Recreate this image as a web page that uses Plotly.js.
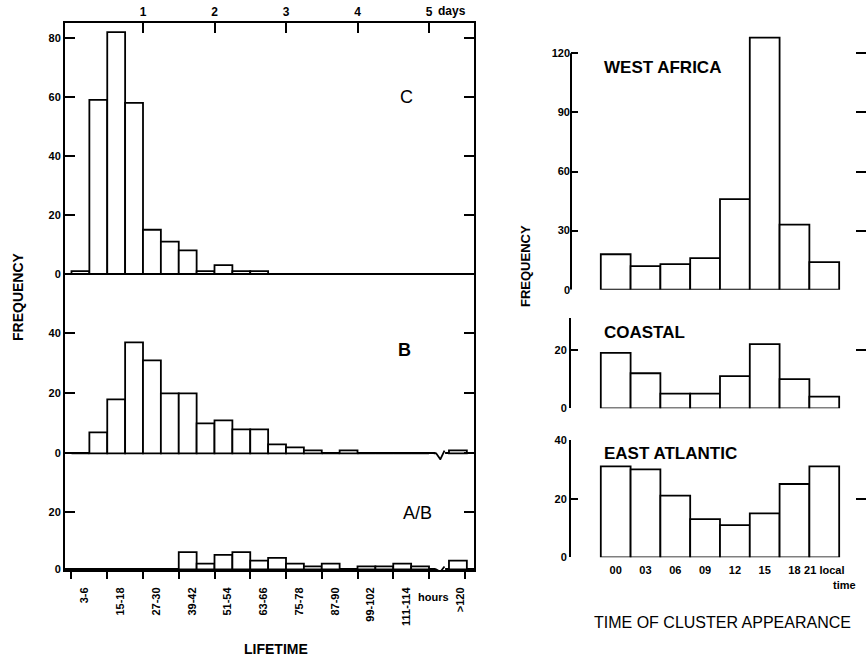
<!DOCTYPE html>
<html><head><meta charset="utf-8">
<script src="https://cdn.plot.ly/plotly-3.0.1.min.js"></script>
<style>html,body{margin:0;padding:0;background:#fff}#chart{width:866px;height:660px}</style>
</head><body><div id="chart"></div>
<script>
// ---------- DATA: lifetime histograms (6-hour bins, last bin = >120 h) ----------
const lifeBinCenters = [3,9,15,21,27,33,39,45,51,57,63,69,75,81,87,93,99,105,111,117,129.7];
const freqC  = [1,59,82,58,15,11,8,1,3,1,1,0,0,0,0,0,0,0,0,0,0];
const freqB  = [0,7,18,37,31,20,20,10,11,8,8,3,2,1,0,1,0,0,0,0,1];
const freqAB = [0,0,0,0,0,0,6,2,5,6,3,4,2,1,2,0,1,1,2,1,3];
const lifeTickVals = [4.5,16.5,28.5,40.5,52.5,64.5,76.5,88.5,100.5,112.5,130.4];
const lifeTickText = ['3-6','15-18','27-30','39-42','51-54','63-66','75-78','87-90','99-102','111-114','>120'];
const dayTickVals = [24,48,72,96,120];
const dayTickText = ['1','2','3','4','5'];
const yTicksC = [0,20,40,60,80];
const yTicksB = [0,20,40];
const yTicksAB = [0,20];

// ---------- DATA: time of cluster appearance ----------
const localTimes = ['00','03','06','09','12','15','18','21'];
const westAfrica = [18,12,13,16,46,128,33,14];
const coastal = [19,12,5,5,11,22,10,4];
const eastAtlantic = [31,30,21,13,11,15,25,31];
const yTicksWA = [0,30,60,90,120];
const yTicksCo = [0,20];
const yTicksEA = [0,20,40];

// ---------- helpers ----------
const W = 866, H = 660;
const fx = p => p / W;
const fy = p => 1 - p / H;
const FONT = 'Liberation Sans, Arial, sans-serif';
const tickFont = {family: FONT, size: 11, color: 'black', weight: 'bold'};
const barStyle = {color: 'white', line: {color: 'black', width: 1.8}};

function bar(x, y, xa, ya, w) {
  return {type: 'bar', x: x, y: y, width: w, xaxis: xa, yaxis: ya,
    marker: barStyle, hoverinfo: 'skip', showlegend: false};
}

const traces = [
  bar(lifeBinCenters, freqC, 'x2', 'y', 6),
  bar(lifeBinCenters, freqB, 'x', 'y2', 6),
  bar(lifeBinCenters, freqAB, 'x', 'y3', 6),
  bar(localTimes, westAfrica, 'x3', 'y4', 1),
  bar(localTimes, coastal, 'x3', 'y5', 1),
  bar(localTimes, eastAtlantic, 'x3', 'y6', 1),
  {type: 'scatter', x: [], y: [], xaxis: 'x3', yaxis: 'y7', showlegend: false},
  {type: 'scatter', x: [], y: [], xaxis: 'x3', yaxis: 'y8', showlegend: false},
  {type: 'scatter', x: [], y: [], xaxis: 'x3', yaxis: 'y9', showlegend: false}
];

const xL = [fx(65), fx(474)];
const xRange = [-2.18, 135.1];
const xR = [fx(571), fx(866)];
const xRRange = [-1.5, 8.4];
const waRange = [0, 130];

const leftY = (domain, range, ticks, anchor) => ({
  domain: domain, range: range, anchor: anchor, tickmode: 'array', tickvals: ticks,
  showline: true, linewidth: 2, linecolor: 'black', mirror: 'ticks',
  ticks: 'inside', ticklen: 10, tickwidth: 2, tickcolor: 'black',
  zeroline: true, zerolinewidth: 2, zerolinecolor: 'black', showgrid: false,
  tickfont: tickFont, fixedrange: true
});
const rightY = (domain, range, ticks, line) => ({
  domain: domain, range: range, anchor: 'x3', tickmode: 'array', tickvals: ticks,
  showline: line, linewidth: 2, linecolor: 'black',
  ticks: 'inside', ticklen: 7, tickwidth: 2, tickcolor: 'black',
  zeroline: false, showgrid: false, tickfont: tickFont, fixedrange: true
});
const mirrorY = (base, range, ticks) => ({
  overlaying: base, side: 'right', anchor: 'x3', range: range, tickmode: 'array', tickvals: ticks,
  showline: false, ticks: 'inside', ticklen: 10, tickwidth: 2, tickcolor: 'black',
  showticklabels: false, zeroline: false, showgrid: false, fixedrange: true
});

const ann = (text, x, y, opts) => Object.assign({
  text: text, x: fx(x), y: fy(y), xref: 'paper', yref: 'paper', showarrow: false,
  xanchor: 'center', yanchor: 'middle', font: {family: FONT, size: 12, color: 'black'}
}, opts || {});

// axis break marks (decoration) on the B and A/B baselines
const breakShapes = ['y2', 'y3'].flatMap(ya => [
  {type: 'line', xref: 'x', yref: ya, x0: 122.2, x1: 125.4, y0: 0, y1: 0,
   line: {color: 'white', width: 5}},
  {type: 'path', xref: 'x', yref: ya,
   path: ya === 'y2' ? 'M121.6,0 L122.4,0 L123.8,-2 L125.2,0.9' : 'M121.6,0 L122.4,0 L123.8,-0.9 L125.2,1',
   line: {color: 'black', width: 1.8}}
]);
// West Africa axis line stops at its top tick (the 15 h bar rises above it)
const waAxisLine = {type: 'line', xref: 'x3 domain', yref: 'y4', x0: 0, x1: 0,
  y0: 0, y1: yTicksWA[yTicksWA.length - 1], line: {color: 'black', width: 2}};

const layout = {
  width: W, height: H, margin: {l: 0, r: 0, t: 0, b: 0}, autosize: false,
  paper_bgcolor: 'white', plot_bgcolor: 'rgba(0,0,0,0)', showlegend: false,
  font: {family: FONT, color: 'black'},
  xaxis: {
    domain: xL, range: xRange, anchor: 'y3', showline: true, linewidth: 2, linecolor: 'black',
    zeroline: false, showgrid: false, tickmode: 'array', tickvals: lifeTickVals, ticktext: lifeTickText,
    tickangle: -90, ticks: '', ticklabelstandoff: 11, tickfont: tickFont, fixedrange: true,
    minor: {tickmode: 'linear', tick0: 0, dtick: 12, ticks: 'outside', ticklen: 7, tickwidth: 2, tickcolor: 'black', showgrid: false}
  },
  xaxis2: {
    domain: xL, range: xRange, anchor: 'y', side: 'top', showline: true, linewidth: 2, linecolor: 'black',
    zeroline: false, showgrid: false, tickmode: 'array', tickvals: dayTickVals, ticktext: dayTickText,
    ticks: 'inside', ticklen: 10, tickwidth: 2, tickcolor: 'black',
    tickfont: {family: FONT, size: 12, color: 'black', weight: 'bold'}, fixedrange: true
  },
  yaxis: leftY([fy(289), fy(23)], [-5.08, 85.08], yTicksC, 'x2'),
  yaxis2: leftY([fy(460), fy(289)], [-2.23, 54.8], yTicksB, 'x'),
  yaxis3: leftY([fy(570), fy(460)], [-0.24, 37.95], yTicksAB, 'x'),
  xaxis3: {
    domain: xR, range: xRRange, anchor: 'y6', type: 'category', showline: false, zeroline: false,
    showgrid: false, ticks: '', tickmode: 'array', tickvals: localTimes,
    ticktext: localTimes.map((t, i) => i === localTimes.length - 1 ? t + ' local' : t),
    ticklabelstandoff: 5, tickfont: tickFont, fixedrange: true
  },
  yaxis4: rightY([fy(289.7), fy(33.6)], waRange, yTicksWA, false),
  yaxis5: rightY([fy(408.3), fy(318.4)], [0, 30.8], yTicksCo, true),
  yaxis6: rightY([fy(557.3), fy(440)], [0, 40], yTicksEA, true),
  yaxis7: mirrorY('y4', waRange, yTicksWA),
  yaxis8: mirrorY('y5', [0, 30.8], yTicksCo),
  yaxis9: mirrorY('y6', [0, 40], yTicksEA),
  shapes: breakShapes.concat([waAxisLine]),
  annotations: [
    ann('C', 406, 97, {font: {family: FONT, size: 18, color: 'black'}}),
    ann('B', 404, 350, {font: {family: FONT, size: 18, color: 'black', weight: 'bold'}}),
    ann('A/B', 417, 513, {font: {family: FONT, size: 18, color: 'black'}}),
    ann('FREQUENCY', 18, 297, {textangle: -90, font: {family: FONT, size: 14, color: 'black', weight: 'bold'}}),
    ann('LIFETIME', 276, 649, {font: {family: FONT, size: 14, color: 'black', weight: 'bold'}}),
    ann('hours', 433, 597, {font: {family: FONT, size: 11, color: 'black', weight: 'bold'}}),
    ann('days', 436, 11, {xanchor: 'left', font: {family: FONT, size: 12, color: 'black', weight: 'bold'}}),
    ann('WEST AFRICA', 602, 67, {xanchor: 'left', font: {family: FONT, size: 17, color: 'black', weight: 'bold'}}),
    ann('COASTAL', 602, 332, {xanchor: 'left', font: {family: FONT, size: 17, color: 'black', weight: 'bold'}}),
    ann('EAST ATLANTIC', 602, 453, {xanchor: 'left', font: {family: FONT, size: 17, color: 'black', weight: 'bold'}}),
    ann('FREQUENCY', 525, 266, {textangle: -90, font: {family: FONT, size: 13, color: 'black', weight: 'bold'}}),
    ann('TIME OF CLUSTER APPEARANCE', 722, 622, {font: {family: FONT, size: 16, color: 'black'}}),
    ann('time', 858, 585, {xanchor: 'right', font: {family: FONT, size: 11, color: 'black', weight: 'bold'}})
  ]
};

Plotly.newPlot('chart', traces, layout, {staticPlot: true, displayModeBar: false});
</script>
</body></html>
